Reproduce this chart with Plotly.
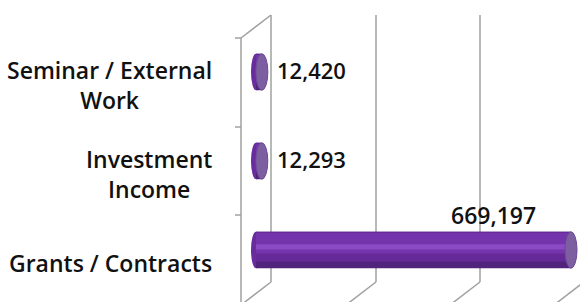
import plotly.graph_objects as go

# ---- data ----
categories = ["Grants / Contracts", "Investment Income", "Seminar / External Work"]
category_labels = ["Grants / Contracts", "Investment<br>Income", "Seminar / External<br>Work"]
values = [669197, 12293, 12420]

# ---- layout constants (pixels) ----
W, H = 580, 302
L = 230                 # plot left edge
PW = W - L              # plot width
ZERO_PX, END_PX = 256, 571
K = max(values) / (END_PX - ZERO_PX)   # data units per px
X0 = -(ZERO_PX - L) * K
X1 = X0 + PW * K
ROW = 89                # px per category
CENTER0_PX = 250
YTOP = CENTER0_PX / ROW
YBOT = YTOP - H / ROW


def px2x(p):
    return X0 + (p - L) * K


def px2y(p):
    return YTOP - p / ROW


FONT = "Open Sans"
GRID = "#a0a0a0"
BAR_W = 0.41

fig = go.Figure()

# cylinder body drawn as overlaid shaded bands
bands = [(-0.205, 0.41, "#52237c"),
         (-0.13, 0.335, "#662a98"),
         (-0.04, 0.23, "#7434ab"),
         (0.005, 0.06, "#8a4ac3")]
for off, w, col in bands:
    fig.add_trace(go.Bar(
        y=list(range(len(values))), x=values, orientation="h",
        width=w, offset=off, marker=dict(color=col, line=dict(width=0)),
        hoverinfo="skip", showlegend=False))

shapes = []
line = dict(color=GRID, width=1.5)


def seg(xa, ya, xb, yb):
    shapes.append(dict(type="line", xref="x", yref="y", layer="below",
                       x0=px2x(xa), y0=px2y(ya), x1=px2x(xb), y1=px2y(yb), line=line))


FRONT_X, BACK_DX, BACK_DY = 241, 30, -23
seg(FRONT_X, 38, FRONT_X, 310)
seg(FRONT_X, 38, FRONT_X + BACK_DX, 38 + BACK_DY)
for t in [38, 127, 215]:
    seg(FRONT_X - 6, t, FRONT_X, t)
for gx in [271, 376, 480, 584]:
    seg(gx, 15, gx, 282)
    seg(gx, 282, gx - BACK_DX, 282 - BACK_DY)

# end caps
for i, v in enumerate(values):
    shapes.append(dict(type="circle", xref="x", yref="y", layer="below",
                       xsizemode="pixel", xanchor=0, x0=-5, x1=5,
                       y0=i - BAR_W / 2, y1=i + BAR_W / 2,
                       fillcolor="#6a2c9c", line=dict(width=0)))
    shapes.append(dict(type="circle", xref="x", yref="y", layer="above",
                       xsizemode="pixel", xanchor=v, x0=-6, x1=6,
                       y0=i - BAR_W / 2, y1=i + BAR_W / 2,
                       fillcolor="#7d5ea1", line=dict(color="#6c4a98", width=1)))

annotations = []
for i, lab in enumerate(category_labels):
    annotations.append(dict(xref="paper", yref="y", x=(214 - L) / PW, y=i,
                            xanchor="right", yanchor="middle", align="center",
                            yshift=-13, text=lab, showarrow=False,
                            font=dict(family=FONT, size=23, color="#111111", weight=600)))
for i, v in enumerate(values):
    big = v == max(values)
    annotations.append(dict(xref="x", yref="y", x=v, y=i,
                            xanchor="center" if big else "left", yanchor="middle",
                            xshift=-78 if big else 13, yshift=35 if big else 2,
                            text=f"{v:,}", showarrow=False,
                            font=dict(family=FONT, size=23 if big else 22,
                                      color="#111111", weight=600)))

fig.update_layout(
    width=W, height=H, margin=dict(l=L, r=0, t=0, b=0),
    paper_bgcolor="white", plot_bgcolor="white", barmode="overlay",
    xaxis=dict(range=[X0, X1], visible=False, fixedrange=True),
    yaxis=dict(range=[YBOT, YTOP], visible=False, fixedrange=True),
    shapes=shapes, annotations=annotations, showlegend=False)

fig.write_html("out.html", config={"displayModeBar": False},
               post_script="document.body.style.margin='0';document.body.style.padding='0';")
